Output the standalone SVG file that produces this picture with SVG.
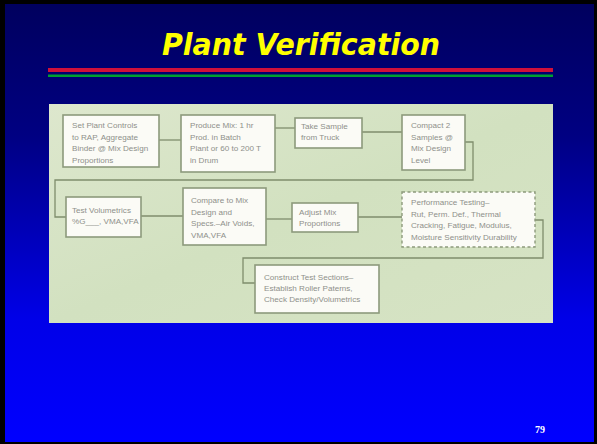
<svg xmlns="http://www.w3.org/2000/svg" width="597" height="444" viewBox="0 0 597 444">
<defs>
<linearGradient id="bg" x1="0" y1="0" x2="0" y2="1">
<stop offset="0" stop-color="#00005e"/>
<stop offset="0.3" stop-color="#000082"/>
<stop offset="0.72" stop-color="#0000e8"/>
<stop offset="1" stop-color="#0000ff"/>
</linearGradient>
<linearGradient id="panel" x1="0" y1="0" x2="1" y2="1">
<stop offset="0" stop-color="#dde7cd"/>
<stop offset="0.5" stop-color="#d2e1c0"/>
<stop offset="1" stop-color="#d6e3c4"/>
</linearGradient>
<style>
.box{fill:#fbfbf6;stroke:#8d9a7c;stroke-width:1.6}
.dash{fill:#fbfbf6;stroke:#8d9a7c;stroke-width:1.4;stroke-dasharray:3 2.5}
.t{font-family:"Liberation Sans",Arial,sans-serif;font-size:8.1px;fill:#8e908a}
.c{fill:none;stroke:#7f8d6c;stroke-width:1.3}
</style>
</defs>
<rect x="0" y="0" width="597" height="444" fill="#000000"/>
<rect x="5" y="4" width="589" height="438" fill="url(#bg)"/>
<text x="301" y="55" text-anchor="middle" font-family="'DejaVu Sans',sans-serif" font-weight="bold" font-style="italic" font-size="31" fill="#ffff00" textLength="278" lengthAdjust="spacingAndGlyphs">Plant Verification</text>
<rect x="48" y="68" width="505" height="4" fill="#d0103a"/>
<rect x="48" y="74.5" width="505" height="2.5" fill="#00a030"/>
<rect x="49" y="104" width="504" height="219" fill="url(#panel)"/>
<g id="connectors">
<path class="c" d="M159 140 H181"/>
<path class="c" d="M275 128 H295"/>
<path class="c" d="M362 132 H402"/>
<path class="c" d="M465 142 H473 V180 H55 V217 H66"/>
<path class="c" d="M141 216 H183"/>
<path class="c" d="M266 219 H292"/>
<path class="c" d="M358 217 H402"/>
<path class="c" d="M535 220 H543 V258 H243 V283 H255"/>
</g>
<g id="n1">
<rect class="box" x="63" y="115" width="96" height="52"/>
<text class="t" x="72" y="128">Set Plant Controls</text>
<text class="t" x="72" y="139.5">to RAP, Aggregate</text>
<text class="t" x="72" y="151">Binder @ Mix Design</text>
<text class="t" x="72" y="162.5">Proportions</text>
</g>
<g id="n2">
<rect class="box" x="181" y="115" width="94" height="57"/>
<text class="t" x="190" y="128">Produce Mix: 1 hr</text>
<text class="t" x="190" y="139.5">Prod. in Batch</text>
<text class="t" x="190" y="151">Plant or 60 to 200 T</text>
<text class="t" x="190" y="162.5">in Drum</text>
</g>
<g id="n3">
<rect class="box" x="295" y="118" width="67" height="30"/>
<text class="t" x="301" y="129">Take Sample</text>
<text class="t" x="301" y="140">from Truck</text>
</g>
<g id="n4">
<rect class="box" x="402" y="115" width="63" height="55"/>
<text class="t" x="411" y="128">Compact 2</text>
<text class="t" x="411" y="139.5">Samples @</text>
<text class="t" x="411" y="151">Mix Design</text>
<text class="t" x="411" y="162.5">Level</text>
</g>
<g id="n5">
<rect class="box" x="66" y="197" width="75" height="40"/>
<text class="t" x="72" y="213">Test Volumetrics</text>
<text class="t" x="72" y="224">%G___, VMA,VFA</text>
</g>
<g id="n6">
<rect class="box" x="183" y="188" width="83" height="57"/>
<text class="t" x="191" y="203">Compare to Mix</text>
<text class="t" x="191" y="214.5">Design and</text>
<text class="t" x="191" y="226">Specs.–Air Voids,</text>
<text class="t" x="191" y="237.5">VMA,VFA</text>
</g>
<g id="n7">
<rect class="box" x="292" y="203" width="66" height="29"/>
<text class="t" x="299" y="215">Adjust Mix</text>
<text class="t" x="299" y="226">Proportions</text>
</g>
<g id="n8">
<rect class="dash" x="402" y="192" width="133" height="55"/>
<text class="t" x="411" y="205">Performance Testing–</text>
<text class="t" x="411" y="216.5">Rut, Perm. Def., Thermal</text>
<text class="t" x="411" y="228">Cracking, Fatigue, Modulus,</text>
<text class="t" x="411" y="239.5">Moisture Sensitivity Durability</text>
</g>
<g id="n9">
<rect class="box" x="255" y="265" width="124" height="48"/>
<text class="t" x="264" y="280">Construct Test Sections–</text>
<text class="t" x="264" y="291">Establish Roller Paterns,</text>
<text class="t" x="264" y="302">Check Density/Volumetrics</text>
</g>
<text x="540" y="433" text-anchor="middle" font-family="'Liberation Serif',serif" font-weight="bold" font-size="10" fill="#ffffff">79</text>
</svg>
